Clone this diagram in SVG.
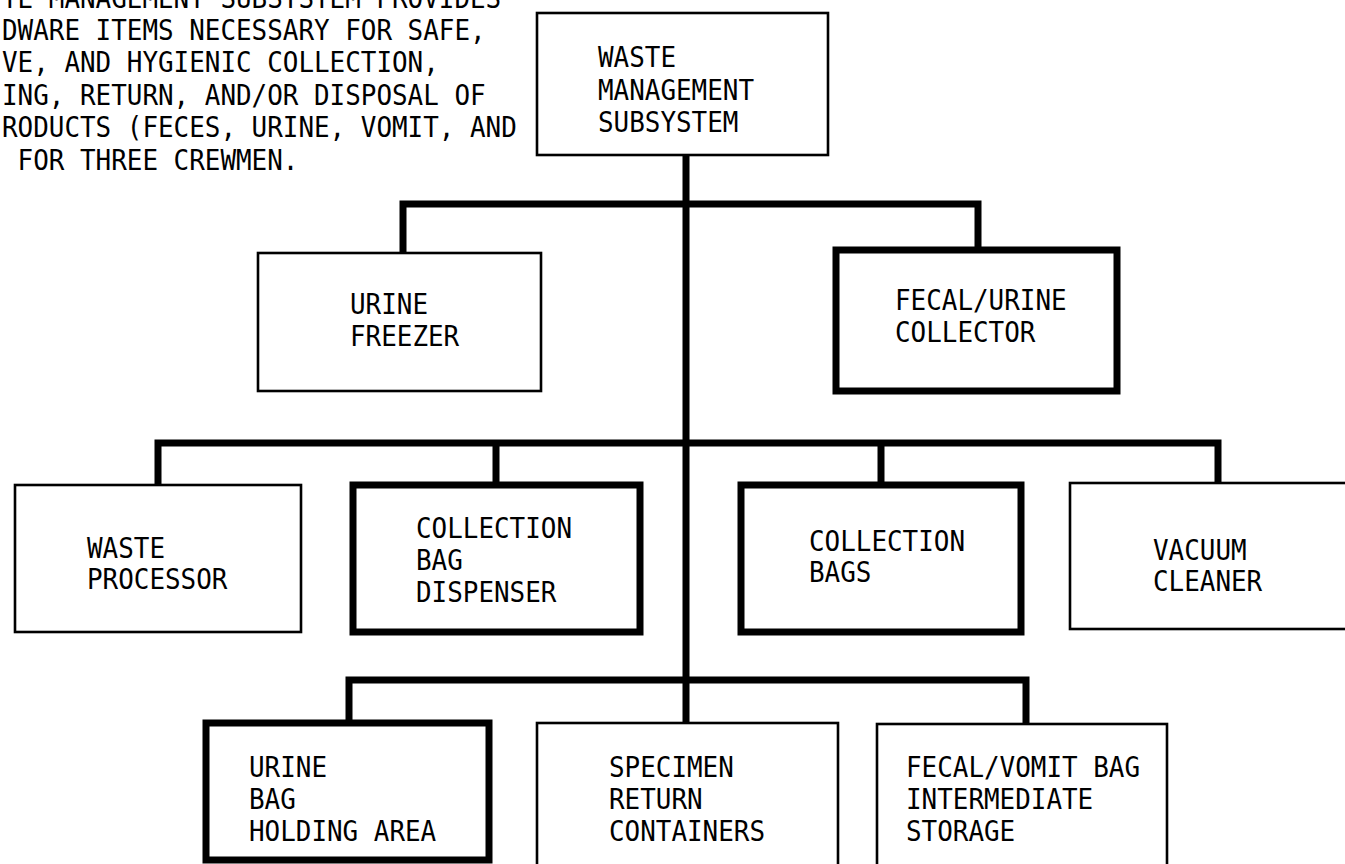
<svg xmlns="http://www.w3.org/2000/svg" width="1345" height="864" viewBox="0 0 1345 864">
<style>
.t{font-family:"DejaVu Sans Mono","Liberation Mono",monospace;font-size:28px;fill:#000}
.box{fill:#fff;stroke:#000;stroke-width:2.6}
.thick{fill:#fff;stroke:#000;stroke-width:7}
.con{fill:none;stroke:#000;stroke-width:7;stroke-linejoin:miter;stroke-linecap:butt}
</style>
<rect width="1345" height="864" fill="#fff"/>
<g id="note">
<text class="t" x="2" y="8" textLength="499.2" lengthAdjust="spacingAndGlyphs">TE MANAGEMENT SUBSYSTEM PROVIDES</text>
<text class="t" x="2" y="39.5" textLength="483.6" lengthAdjust="spacingAndGlyphs">DWARE ITEMS NECESSARY FOR SAFE,</text>
<text class="t" x="2" y="72" textLength="436.8" lengthAdjust="spacingAndGlyphs">VE, AND HYGIENIC COLLECTION,</text>
<text class="t" x="2" y="104.5" textLength="483.6" lengthAdjust="spacingAndGlyphs">ING, RETURN, AND/OR DISPOSAL OF</text>
<text class="t" x="2" y="137" textLength="514.8" lengthAdjust="spacingAndGlyphs">RODUCTS (FECES, URINE, VOMIT, AND</text>
<text class="t" x="17.6" y="169.5" textLength="280.8" lengthAdjust="spacingAndGlyphs">FOR THREE CREWMEN.</text>
</g>
<g id="connectors">
<path class="con" d="M686,155 V723"/>
<path class="con" d="M403,253 V204 H978 V250"/>
<path class="con" d="M158,485 V443 H1218 V483"/>
<path class="con" d="M496,443 V485"/>
<path class="con" d="M881,443 V485"/>
<path class="con" d="M349,723 V680 H1026 V723"/>
</g>
<g id="n-top">
<rect class="box" x="537" y="13" width="291" height="142"/>
<text class="t" x="598" y="67" textLength="78" lengthAdjust="spacingAndGlyphs">WASTE</text>
<text class="t" x="598" y="99.5" textLength="156" lengthAdjust="spacingAndGlyphs">MANAGEMENT</text>
<text class="t" x="598" y="132" textLength="140.4" lengthAdjust="spacingAndGlyphs">SUBSYSTEM</text>
</g>
<g id="n-urine-freezer">
<rect class="box" x="258" y="253" width="283" height="138"/>
<text class="t" x="350" y="314" textLength="78" lengthAdjust="spacingAndGlyphs">URINE</text>
<text class="t" x="350" y="346" textLength="109.2" lengthAdjust="spacingAndGlyphs">FREEZER</text>
</g>
<g id="n-fecal-urine-collector">
<rect class="thick" x="836" y="250" width="281" height="141"/>
<text class="t" x="895" y="310" textLength="171.6" lengthAdjust="spacingAndGlyphs">FECAL/URINE</text>
<text class="t" x="895" y="342" textLength="140.4" lengthAdjust="spacingAndGlyphs">COLLECTOR</text>
</g>
<g id="n-waste-processor">
<rect class="box" x="15" y="485" width="286" height="147"/>
<text class="t" x="87" y="558" textLength="78" lengthAdjust="spacingAndGlyphs">WASTE</text>
<text class="t" x="87" y="589" textLength="140.4" lengthAdjust="spacingAndGlyphs">PROCESSOR</text>
</g>
<g id="n-collection-bag-dispenser">
<rect class="thick" x="353" y="485" width="287" height="147"/>
<text class="t" x="416" y="538" textLength="156" lengthAdjust="spacingAndGlyphs">COLLECTION</text>
<text class="t" x="416" y="570" textLength="46.8" lengthAdjust="spacingAndGlyphs">BAG</text>
<text class="t" x="416" y="602" textLength="140.4" lengthAdjust="spacingAndGlyphs">DISPENSER</text>
</g>
<g id="n-collection-bags">
<rect class="thick" x="741" y="485" width="280" height="147"/>
<text class="t" x="809" y="551" textLength="156" lengthAdjust="spacingAndGlyphs">COLLECTION</text>
<text class="t" x="809" y="582" textLength="62.4" lengthAdjust="spacingAndGlyphs">BAGS</text>
</g>
<g id="n-vacuum-cleaner">
<rect class="box" x="1070" y="483" width="300" height="146"/>
<text class="t" x="1153" y="560" textLength="93.6" lengthAdjust="spacingAndGlyphs">VACUUM</text>
<text class="t" x="1153" y="591" textLength="109.2" lengthAdjust="spacingAndGlyphs">CLEANER</text>
</g>
<g id="n-urine-bag-holding-area">
<rect class="thick" x="206" y="723" width="283" height="137"/>
<text class="t" x="249" y="777" textLength="78" lengthAdjust="spacingAndGlyphs">URINE</text>
<text class="t" x="249" y="809" textLength="46.8" lengthAdjust="spacingAndGlyphs">BAG</text>
<text class="t" x="249" y="841" textLength="187.2" lengthAdjust="spacingAndGlyphs">HOLDING AREA</text>
</g>
<g id="n-specimen-return-containers">
<rect class="box" x="537" y="723" width="301" height="160"/>
<text class="t" x="609" y="777" textLength="124.8" lengthAdjust="spacingAndGlyphs">SPECIMEN</text>
<text class="t" x="609" y="809" textLength="93.6" lengthAdjust="spacingAndGlyphs">RETURN</text>
<text class="t" x="609" y="841" textLength="156" lengthAdjust="spacingAndGlyphs">CONTAINERS</text>
</g>
<g id="n-fecal-vomit-bag-storage">
<rect class="box" x="877" y="724" width="290" height="160"/>
<text class="t" x="906" y="777" textLength="234" lengthAdjust="spacingAndGlyphs">FECAL/VOMIT BAG</text>
<text class="t" x="906" y="809" textLength="187.2" lengthAdjust="spacingAndGlyphs">INTERMEDIATE</text>
<text class="t" x="906" y="841" textLength="109.2" lengthAdjust="spacingAndGlyphs">STORAGE</text>
</g>
</svg>
